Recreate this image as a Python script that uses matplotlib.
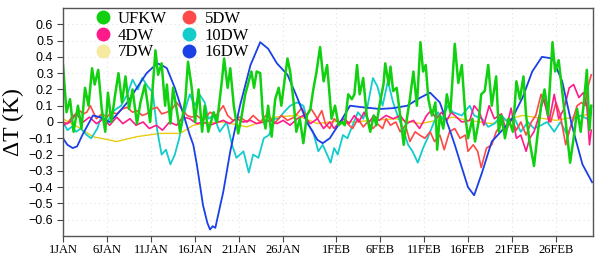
import matplotlib
matplotlib.use("Agg")
import matplotlib.pyplot as plt
from matplotlib.lines import Line2D
import numpy as np

# ---------------- data (day since 1 JAN, value in K) ----------------
ufkw_day = [0.0, 0.4, 0.8, 1.2, 1.7, 2.1, 2.5, 2.9, 3.3, 3.6, 4.0, 4.4, 4.8, 5.1, 5.5, 5.9,
            6.3, 6.7, 7.1, 7.5, 7.9, 8.4, 8.8, 9.3, 9.9, 10.5, 10.8, 11.2, 11.6, 11.8, 12.2,
            12.5, 12.9, 13.3, 13.9, 14.2, 14.6, 15.0, 15.4, 15.8, 16.1, 16.5, 17.1, 17.5,
            18.0, 18.3, 18.7, 19.0, 19.4, 19.9, 20.3, 20.7, 21.1, 21.4, 21.7, 22.0, 22.4,
            22.7, 23.0, 23.3, 23.7, 24.1, 24.5, 24.8, 25.2, 25.5, 25.8, 26.2, 26.5, 26.9,
            27.3, 27.7, 28.1, 28.4, 28.8, 29.2, 29.6, 30.0, 30.5, 30.9, 31.3, 31.7, 32.0,
            32.4, 32.8, 33.1, 33.4, 33.7, 34.1, 34.5, 34.9, 35.3, 35.6, 36.0, 36.4, 36.6,
            37.0, 37.2, 37.5, 37.9, 38.3, 38.7, 39.0, 39.4, 39.8, 40.2, 40.6, 40.9, 41.2,
            41.5, 41.9, 42.3, 42.5, 42.8, 43.2, 43.6, 44.0, 44.5, 44.9, 45.3, 45.7, 46.0,
            46.5, 46.8, 47.2, 47.5, 47.9, 48.3, 48.7, 49.2, 49.5, 49.8, 50.2, 50.6, 51.1,
            51.5, 51.9, 52.3, 52.6, 53.0, 53.5, 53.9, 54.3, 54.7, 55.1, 55.6, 55.9, 56.3,
            56.7, 57.1, 57.6, 58.1, 58.4, 58.8, 59.2, 59.5, 59.8, 60.0]
ufkw_val = [0.35, 0.06, 0.14, -0.06, 0.10, -0.04, 0.21, 0.10, 0.33, 0.23, 0.32, 0.08, -0.06, 0.18,
            0.00, 0.16, 0.30, 0.12, 0.28, 0.08, 0.20, -0.01, 0.12, 0.23, 0.00, 0.44, 0.29, 0.36,
            0.10, 0.23, -0.01, 0.21, 0.08, -0.06, 0.14, 0.37, 0.22, 0.00, 0.20, -0.06, 0.10,
            -0.06, 0.06, 0.00, 0.23, 0.39, 0.21, 0.33, 0.10, -0.07, 0.04, 0.17, 0.25, 0.31,
            0.21, 0.31, 0.30, 0.04, -0.04, 0.10, -0.09, 0.14, 0.21, 0.10, 0.27, 0.39, 0.31,
            0.12, -0.06, 0.02, -0.13, 0.04, 0.08, 0.19, 0.31, 0.46, 0.25, 0.35, 0.02, 0.10,
            -0.02, 0.00, -0.02, 0.17, 0.14, 0.17, 0.35, 0.17, 0.27, 0.04, -0.06, 0.04, -0.02,
            0.12, 0.23, 0.36, 0.23, 0.34, 0.19, 0.21, 0.04, -0.14, 0.00, 0.14, 0.31, 0.10,
            0.49, 0.31, 0.35, 0.14, 0.04, 0.12, -0.17, 0.04, -0.04, 0.17, 0.06, 0.48, 0.24,
            0.35, 0.04, -0.10, 0.02, -0.12, 0.00, 0.17, 0.19, 0.35, 0.10, 0.28, -0.06, 0.04,
            -0.10, 0.02, -0.06, 0.25, 0.14, 0.28, 0.04, -0.12, -0.27, -0.08, 0.10, 0.20, 0.04,
            0.49, 0.31, 0.38, 0.19, 0.00, -0.25, -0.06, 0.08, -0.06, 0.14, 0.32, -0.05, 0.10]

dw5_day = [0.0, 0.5, 1.0, 1.9, 2.3, 2.7, 3.1, 3.8, 4.4, 5.0, 5.5, 6.1, 6.7, 7.3, 7.9, 8.4, 9.0,
           9.5, 10.1, 10.7, 11.2, 11.8, 12.4, 12.9, 13.5, 14.1, 14.6, 15.2, 15.9, 16.7, 17.4,
           18.2, 18.7, 19.3, 20.1, 20.9, 21.6, 22.4, 23.2, 24.0, 24.8, 25.5, 26.3, 27.1, 27.6,
           28.2, 28.9, 29.4, 29.8, 30.3, 30.8, 31.4, 32.1, 32.9, 33.5, 34.1, 34.6, 35.2, 35.7,
           36.3, 36.7, 37.2, 37.8, 38.3, 38.9, 39.4, 40.0, 40.5, 41.1, 41.7, 42.2, 42.8, 43.3,
           43.9, 44.5, 45.1, 45.7, 46.0, 46.6, 47.1, 47.5, 48.1, 48.7, 49.2, 49.8, 50.3, 50.9,
           51.5, 52.0, 52.6, 53.2, 53.7, 54.3, 54.8, 55.4, 56.0, 56.5, 57.1, 57.7, 58.4, 58.9,
           59.3, 59.6, 60.0]
dw5_val = [0.00, -0.01, 0.03, 0.07, 0.05, 0.06, 0.10, 0.02, 0.05, 0.03, 0.06, 0.05, 0.08, 0.09,
           0.06, 0.07, 0.04, 0.05, 0.08, 0.09, 0.05, 0.06, 0.08, 0.12, 0.08, 0.04, 0.03, 0.04,
           0.01, 0.06, 0.04, 0.10, 0.04, 0.01, 0.03, 0.00, 0.04, 0.00, 0.05, -0.01, 0.04, 0.01,
           0.03, 0.085, 0.04, 0.08, 0.02, 0.07, -0.01, -0.04, 0.02, -0.01, 0.00, -0.04, 0.02,
           -0.03, 0.00, -0.04, -0.01, -0.04, 0.02, -0.02, 0.00, -0.06, -0.02, -0.12, -0.06,
           -0.08, -0.10, -0.06, -0.12, -0.08, -0.17, -0.06, -0.04, -0.10, -0.08, -0.18, -0.14,
           -0.18, -0.28, -0.16, -0.14, -0.06, -0.01, -0.06, 0.02, -0.05, 0.00, -0.08, 0.00,
           0.04, 0.17, 0.10, 0.00, 0.12, 0.04, -0.14, -0.02, 0.10, 0.12, 0.10, 0.21, 0.29]

dw4_day = [0.0, 0.8, 1.5, 2.3, 3.0, 3.8, 4.6, 5.3, 6.1, 6.8, 7.6, 8.3, 9.1, 9.8, 10.6, 11.3,
           12.1, 12.9, 13.6, 14.4, 15.2, 15.9, 16.7, 17.4, 18.2, 18.9, 19.7, 20.5, 21.3, 22.0,
           22.8, 23.6, 24.3, 25.0, 25.8, 26.6, 27.3, 28.1, 28.9, 29.6, 30.3, 30.8, 31.4, 32.0,
           32.5, 33.1, 33.6, 34.2, 34.8, 35.3, 35.9, 36.7, 37.5, 38.3, 39.0, 39.8, 40.5, 41.3,
           41.8, 42.4, 43.0, 43.6, 44.1, 44.5, 45.3, 46.2, 46.7, 47.3, 47.8, 48.4, 49.0, 49.8,
           50.3, 50.9, 51.5, 52.0, 52.6, 53.0, 53.5, 54.1, 54.6, 55.2, 55.8, 56.3, 56.9, 57.5,
           58.0, 58.6, 59.1, 59.5, 59.8, 60.0]
dw4_val = [-0.02, 0.00, 0.05, 0.00, 0.03, -0.01, 0.02, -0.02, 0.03, -0.01, 0.02, -0.02, 0.00,
           -0.04, -0.02, -0.05, 0.00, -0.02, 0.03, 0.02, -0.01, 0.00, -0.02, -0.005, 0.01,
           -0.01, 0.02, 0.00, 0.01, -0.01, 0.00, 0.01, -0.01, 0.01, -0.02, 0.02, 0.04, -0.01,
           0.02, -0.04, 0.00, -0.04, 0.00, 0.02, -0.01, 0.04, 0.00, 0.06, 0.00, 0.04, 0.01,
           0.04, 0.02, 0.04, -0.01, 0.01, -0.04, 0.04, 0.07, 0.02, 0.06, 0.01, 0.06, 0.04,
           0.00, 0.01, 0.10, 0.06, -0.02, 0.10, 0.02, 0.05, -0.05, 0.085, -0.10, -0.08, -0.18,
           -0.10, -0.06, 0.04, 0.15, 0.00, 0.17, 0.02, 0.08, 0.21, 0.23, 0.15, 0.18, 0.10,
           -0.14, -0.05]

dw7_day = [0.0, 2.0, 3.4, 6.1, 8.4, 11.0, 13.3, 14.8, 16.4, 18.2, 20.9, 23.9, 26.6, 28.9, 31.0,
           33.0, 35.0, 37.8, 40.6, 44.3, 46.0, 48.7, 52.2, 56.0, 60.0]
dw7_val = [0.02, -0.04, -0.09, -0.12, -0.09, -0.07, -0.07, -0.02, -0.005, 0.00, -0.03, 0.03,
           0.04, -0.01, 0.005, 0.00, 0.01, 0.02, -0.01, 0.03, 0.01, -0.01, 0.04, 0.01, 0.05]

dw10_day = [0.0, 0.5, 1.0, 1.5, 2.0, 2.7, 3.2, 3.9, 4.4, 5.0, 5.8, 6.6, 7.3, 7.9, 8.5, 9.0, 9.6,
            10.2, 10.7, 11.2, 11.7, 12.2, 12.7, 13.2, 13.6, 14.0, 14.4, 15.0, 15.5, 16.1, 16.5,
            17.1, 17.8, 18.6, 19.2, 19.7, 20.5, 21.1, 21.6, 22.2, 22.8, 23.4, 24.0, 24.5, 25.1,
            25.8, 26.6, 27.3, 27.9, 28.4, 29.0, 29.5, 30.0, 30.4, 30.8, 31.2, 31.8, 32.3, 32.9,
            33.5, 34.1, 34.6, 35.2, 35.7, 36.3, 36.9, 37.5, 38.0, 38.6, 39.2, 39.7, 40.3, 40.9,
            41.4, 42.0, 42.6, 43.1, 43.7, 44.3, 45.3, 46.2, 46.7, 47.6, 48.3, 49.0, 49.8, 50.5,
            51.3, 52.0, 52.8, 53.5, 54.3, 55.0, 55.8, 56.5, 57.3, 58.0, 58.8, 59.5, 60.0]
dw10_val = [0.00, -0.05, -0.03, -0.06, -0.04, -0.08, -0.10, -0.04, 0.04, 0.00, 0.07, 0.10, 0.17,
            0.26, 0.20, 0.27, 0.22, 0.18, -0.05, -0.20, -0.17, -0.26, -0.20, -0.10, 0.01, 0.10,
            0.17, 0.10, 0.17, 0.12, 0.02, 0.04, -0.06, 0.00, -0.14, -0.22, -0.18, -0.31, -0.20,
            -0.22, -0.10, -0.08, 0.02, 0.02, 0.06, 0.10, 0.12, 0.10, -0.02, -0.06, -0.18, -0.14,
            -0.20, -0.25, -0.16, -0.20, -0.08, -0.10, -0.02, 0.06, 0.02, 0.10, 0.27, 0.22, 0.10,
            0.25, 0.12, 0.04, -0.04, -0.14, -0.18, -0.25, -0.16, -0.10, -0.02, 0.06, 0.02, 0.10,
            0.06, 0.04, 0.10, 0.04, 0.02, -0.03, -0.01, 0.04, 0.00, 0.02, -0.06, 0.00, -0.04,
            -0.02, 0.00, -0.06, 0.00, -0.08, 0.02, 0.04, 0.02, 0.05]

dw16_day = [0.0, 0.5, 1.1, 1.6, 2.2, 2.8, 3.4, 4.2, 5.3, 6.2, 7.3, 8.4, 9.5, 10.7, 11.2, 11.8,
            12.7, 13.6, 14.4, 14.8, 15.2, 15.9, 16.4, 16.7, 17.0, 17.3, 18.2, 19.0, 20.1, 21.3,
            22.4, 23.3, 24.3, 25.5, 26.6, 27.7, 28.9, 29.5, 30.3, 31.5, 32.6, 34.1, 36.0, 37.5,
            39.1, 40.6, 41.7, 42.8, 44.0, 44.5, 45.3, 46.0, 46.7, 47.6, 48.7, 49.9, 51.0, 52.2,
            53.3, 54.4, 55.6, 56.7, 57.8, 59.0, 60.1]
dw16_val = [-0.10, -0.14, -0.16, -0.15, -0.08, -0.02, 0.04, 0.03, 0.00, 0.05, 0.12, 0.21, 0.30,
            0.36, 0.35, 0.33, 0.21, 0.06, -0.08, -0.14, -0.26, -0.51, -0.62, -0.66, -0.64,
            -0.65, -0.43, -0.18, 0.10, 0.35, 0.49, 0.45, 0.36, 0.29, 0.15, 0.00, -0.11, -0.13,
            -0.10, 0.00, 0.10, 0.09, 0.08, 0.085, 0.10, 0.15, 0.18, 0.12, -0.06, -0.14, -0.28,
            -0.40, -0.45, -0.31, -0.12, -0.05, 0.02, 0.15, 0.31, 0.40, 0.39, 0.25, -0.02,
            -0.26, -0.37]

tick_days = [0, 5, 10, 15, 20, 25, 31, 36, 41, 46, 51, 56]
tick_labels = ["1JAN", "6JAN", "11JAN", "16JAN", "21JAN", "26JAN",
               "1FEB", "6FEB", "11FEB", "16FEB", "21FEB", "26FEB"]

series = [
    ("7DW", dw7_day, dw7_val, "#e8cc10", 1.0, "#f6eaa0"),
    ("10DW", dw10_day, dw10_val, "#14cccc", 1.3, "#14cccc"),
    ("5DW", dw5_day, dw5_val, "#ff4848", 1.2, "#ff4848"),
    ("4DW", dw4_day, dw4_val, "#ff1a8c", 1.2, "#ff1a8c"),
    ("16DW", dw16_day, dw16_val, "#1a40e6", 1.3, "#1a40e6"),
    ("UFKW", ufkw_day, ufkw_val, "#10d010", 1.8, "#10d010"),
]

fig = plt.figure(figsize=(6.0, 2.58), dpi=100)
ax = fig.add_axes([63 / 600, 22 / 258, 530 / 600, 228 / 258])

handles = {}
for name, d, v, col, lw, mcol in series:
    ax.plot(d, v, color=col, lw=lw, solid_joinstyle="round")
    handles[name] = Line2D([], [], ls="none", marker="o", ms=9,
                           markerfacecolor=mcol, markeredgecolor=mcol)

ax.set_xlim(0, 60.2)
ax.set_ylim(-0.7, 0.7)
yt = np.round(np.arange(-0.6, 0.61, 0.1), 1)
ax.set_yticks(yt)
ax.set_yticklabels([("%g" % t).replace("-", "\u2212") if abs(t) > 1e-9 else "0" for t in yt],
                   fontfamily="Liberation Sans", fontsize=9)
ax.set_xticks(tick_days)
ax.set_xticklabels(tick_labels, fontfamily="Liberation Serif", fontsize=9)
ax.tick_params(axis="both", direction="out", length=4, width=0.8, color="#444444", pad=2)
ax.tick_params(axis="y", pad=3)
ax.tick_params(top=False, right=False)
for s in ax.spines.values():
    s.set_color("#555555")
    s.set_linewidth(1.0)

ax.grid(True, color="#e2e2e2", ls=(0, (1, 3)), lw=0.8)
ax.set_axisbelow(True)

ax.set_ylabel("\u0394T (K)", fontfamily="Liberation Serif", fontsize=17, labelpad=3)

order = ["UFKW", "4DW", "7DW", "5DW", "10DW", "16DW"]
leg = ax.legend([handles[k] for k in order], order, ncol=2, loc="upper left",
                bbox_to_anchor=(0.05, 1.017), frameon=False,
                prop={"family": "Liberation Serif", "size": 12},
                handlelength=0.8, handletextpad=0.5, columnspacing=0.95,
                labelspacing=0.05, borderaxespad=0.0)

fig.savefig("out.png", dpi=100)
